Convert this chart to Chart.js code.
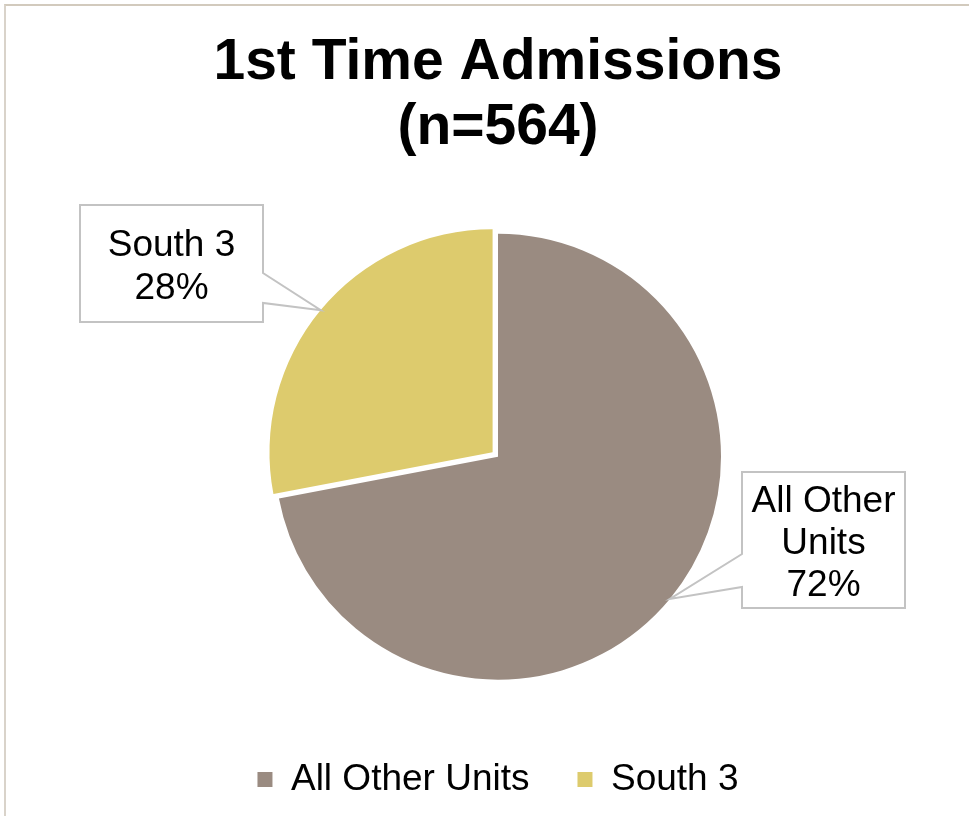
<!DOCTYPE html>
<html>
<head>
<meta charset="utf-8">
<script src="https://cdn.jsdelivr.net/npm/chart.js@4.4.1/dist/chart.umd.min.js"></script>
<style>
  html, body { margin: 0; padding: 0; background: #fff; overflow: hidden; }
  #frame {
    position: absolute; left: 4px; top: 4px; width: 1200px; height: 1000px;
    border-top: 2px solid #d2cabd; border-left: 2px solid #d9d3ca;
  }
  #wrap { position: absolute; left: 0; top: 0; width: 969px; height: 816px; }
</style>
</head>
<body>
<div id="frame"></div>
<div id="wrap"><canvas id="chart" width="969" height="816"></canvas></div>
<script>
// ── Data ──────────────────────────────────────────────────────────────────
var titleLines = ["1st Time Admissions", "(n=564)"];
var units = ["All Other Units", "South 3"];
var shares = [72, 28];
var calloutLines = [["All Other", "Units", "72%"], ["South 3", "28%"]];
var sliceColors = ["#9a8b81", "#ddcb6d"];

var FONT = "'Liberation Sans', Arial, sans-serif";

// callout boxes: box rect, pointer base y on the box side, text baselines
var callouts = [
	{ x: 742, y: 472, w: 163, h: 136, side: "left", base: [554, 587], cx: 823.5, lines: [512, 554, 596] },
	{ x: 80, y: 205, w: 183, h: 117, side: "right", base: [273, 303], cx: 171.5, lines: [256, 299] },
];

var calloutPlugin = {
	id: "callouts",
	afterDatasetsDraw: function (chart) {
		var ctx = chart.ctx;
		var arcs = chart.getDatasetMeta(0).data;
		ctx.save();
		arcs.forEach(function (arc, i) {
			var c = callouts[i];
			var p = arc.getProps(["x", "y", "startAngle", "endAngle", "outerRadius"], true);
			var mid = (p.startAngle + p.endAngle) / 2;
			// the arc element moves a slice by offset / 4
			var off = (arc.options.offset || 0) / 4;
			var cx = p.x + Math.cos(mid) * off;
			var cy = p.y + Math.sin(mid) * off;
			var tx = cx + Math.cos(mid) * p.outerRadius;
			var ty = cy + Math.sin(mid) * p.outerRadius;
			var sx = c.side === "left" ? c.x : c.x + c.w;

			ctx.beginPath();
			if (c.side === "right") {
				ctx.moveTo(c.x, c.y);
				ctx.lineTo(c.x + c.w, c.y);
				ctx.lineTo(sx, c.base[0]);
				ctx.lineTo(tx, ty);
				ctx.lineTo(sx, c.base[1]);
				ctx.lineTo(c.x + c.w, c.y + c.h);
				ctx.lineTo(c.x, c.y + c.h);
			} else {
				ctx.moveTo(c.x, c.y);
				ctx.lineTo(c.x + c.w, c.y);
				ctx.lineTo(c.x + c.w, c.y + c.h);
				ctx.lineTo(c.x, c.y + c.h);
				ctx.lineTo(sx, c.base[1]);
				ctx.lineTo(tx, ty);
				ctx.lineTo(sx, c.base[0]);
			}
			ctx.closePath();
			ctx.fillStyle = "#ffffff";
			ctx.fill();
			ctx.lineWidth = 2;
			ctx.strokeStyle = "#c3c3c3";
			ctx.lineJoin = "miter";
			ctx.stroke();

			ctx.fillStyle = "#000";
			ctx.font = "37px " + FONT;
			ctx.textAlign = "center";
			ctx.textBaseline = "alphabetic";
			calloutLines[i].forEach(function (t, k) {
				ctx.fillText(t, c.cx, c.lines[k]);
			});
		});
		ctx.restore();
	},
};

new Chart(document.getElementById("chart"), {
	type: "pie",
	data: {
		labels: units,
		datasets: [
			{
				data: shares,
				backgroundColor: sliceColors,
				borderWidth: 0,
				offset: [0, 28],
				radius: 223,
			},
		],
	},
	options: {
		responsive: false,
		animation: false,
		events: [],
		layout: { padding: { left: 27, right: 0, top: 0, bottom: 8 } },
		plugins: {
			tooltip: { enabled: false },
			title: {
				display: true,
				text: titleLines,
				color: "#000",
				font: { family: FONT, size: 57, weight: "bold", lineHeight: 1.14 },
				padding: { top: 31, bottom: 39.5 },
			},
			legend: {
				position: "bottom",
				labels: {
					color: "#000",
					boxWidth: 15,
					boxHeight: 15,
					padding: 48,
					font: { family: FONT, size: 37 },
				},
			},
		},
	},
	plugins: [calloutPlugin],
});
</script>
</body>
</html>
